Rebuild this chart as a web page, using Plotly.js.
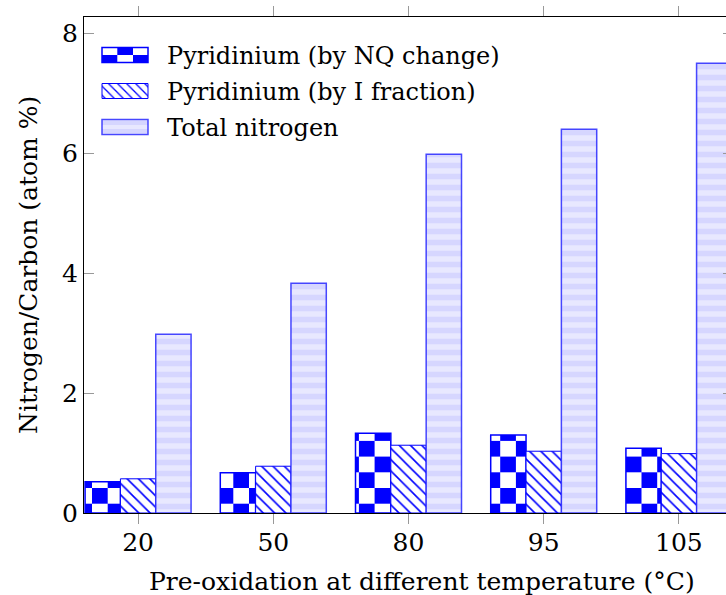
<!DOCTYPE html>
<html>
<head>
<meta charset="utf-8">
<script src="https://cdn.plot.ly/plotly-3.0.1.min.js"></script>
<style>
html,body{margin:0;padding:0;overflow:hidden;background:#fff;}
#chart{width:733px;height:595px;}
</style>
</head>
<body>
<div id="chart"></div>
<script>
const categories = ['20', '50', '80', '95', '105'];
const pyridiniumNQ = [0.52, 0.67, 1.33, 1.30, 1.08];
const pyridiniumI = [0.57, 0.78, 1.13, 1.03, 0.99];
const totalNitrogen = [2.98, 3.83, 5.98, 6.40, 7.50];
const seriesNames = ['Pyridinium (by NQ change)', 'Pyridinium (by I fraction)', 'Total nitrogen'];
const xTitle = 'Pre-oxidation at different temperature (°C)';
const yTitle = 'Nitrogen/Carbon (atom %)';

const FONT = 'DejaVu Serif';
const FS = 25;

const traces = [
  {
    type: 'bar', name: seriesNames[0], x: categories, y: pyridiniumNQ,
    marker: {
      color: '#ffffff',
      line: {color: '#0000ff', width: 1.5},
      pattern: {shape: '+', fgcolor: '#0000ff', bgcolor: '#ffffff', fgopacity: 1, size: 30, solidity: 0.5, fillmode: 'replace'}
    }
  },
  {
    type: 'bar', name: seriesNames[1], x: categories, y: pyridiniumI,
    marker: {
      color: '#ffffff',
      line: {color: '#0000ff', width: 1},
      pattern: {shape: '\\', fgcolor: '#0000ff', bgcolor: '#ffffff', fgopacity: 1, size: 8, solidity: 0.2, fillmode: 'replace'}
    }
  },
  {
    type: 'bar', name: seriesNames[2], x: categories, y: totalNitrogen,
    marker: {
      color: '#e6e6ff',
      line: {color: 'rgba(40,40,255,0.85)', width: 1.5},
      pattern: {shape: '-', fgcolor: '#d6d6ff', bgcolor: '#e8e8ff', fgopacity: 1, size: 11, solidity: 0.5, fillmode: 'replace'}
    }
  }
];

const layout = {
  width: 733, height: 595,
  margin: {l: 84, r: 0, t: 17, b: 82},
  paper_bgcolor: '#ffffff', plot_bgcolor: '#ffffff',
  font: {family: FONT, size: FS, color: '#000'},
  barmode: 'group', bargap: 0.216, bargroupgap: 0,
  showlegend: true,
  legend: {x: 0.02, y: 0.985, xanchor: 'left', yanchor: 'top', bgcolor: 'rgba(0,0,0,0)', font: {family: FONT, size: 24}, tracegroupgap: 0},
  xaxis: {
    type: 'category', range: [-0.4, 4.4],
    showline: true, linecolor: '#000', linewidth: 1, mirror: 'ticks',
    ticks: 'outside', ticklen: 10, tickcolor: '#999', tickwidth: 1,
    ticklabelstandoff: -3,
    showgrid: false, zeroline: false,
    tickfont: {family: FONT, size: FS}
  },
  yaxis: {
    range: [0, 8.27], tickvals: [0, 2, 4, 6, 8],
    showline: true, linecolor: '#000', linewidth: 1, mirror: 'ticks',
    ticks: 'inside', ticklen: 10, tickcolor: '#999', tickwidth: 1,
    showgrid: false, zeroline: false,
    tickfont: {family: FONT, size: FS}
  },
  annotations: [
    {text: xTitle, xref: 'paper', yref: 'paper', x: 0.5208, y: -0.139, xanchor: 'center', yanchor: 'middle', showarrow: false, font: {family: FONT, size: FS}},
    {text: yTitle, xref: 'paper', yref: 'paper', x: -0.0863, y: 0.5, xanchor: 'center', yanchor: 'middle', textangle: -90, showarrow: false, font: {family: FONT, size: FS}}
  ]
};

Plotly.newPlot('chart', traces, layout, {displayModeBar: false, staticPlot: true}).then(function (gd) {
  const ns = 'http://www.w3.org/2000/svg';
  const svg = gd.querySelector('svg.main-svg');
  let defs = svg.querySelector('defs');
  const cell = 15.7;
  const pat = document.createElementNS(ns, 'pattern');
  pat.setAttribute('id', 'checkerPat');
  pat.setAttribute('patternUnits', 'userSpaceOnUse');
  pat.setAttribute('width', 2 * cell);
  pat.setAttribute('height', 2 * cell);
  pat.setAttribute('x', 8);
  pat.setAttribute('y', 0);
  const mk = function (x, y, w, h, c) {
    const r = document.createElementNS(ns, 'rect');
    r.setAttribute('x', x); r.setAttribute('y', y);
    r.setAttribute('width', w); r.setAttribute('height', h);
    r.setAttribute('fill', c);
    pat.appendChild(r);
  };
  mk(0, 0, 2 * cell, 2 * cell, '#ffffff');
  mk(0, 0, cell, cell, '#0000ff');
  mk(cell, cell, cell, cell, '#0000ff');
  defs.appendChild(pat);

  const barTraces = gd.querySelectorAll('.barlayer .trace');
  barTraces[0].querySelectorAll('path').forEach(function (p) { p.style.fill = 'url(#checkerPat)'; });

  gd.querySelectorAll('.legend [clip-path]').forEach(function (e) { e.removeAttribute('clip-path'); });
  const items = gd.querySelectorAll('.legend .traces');
  const target = [55, 91, 127];
  items.forEach(function (it, i) {
    const pt = it.querySelector('.legendpoints path');
    pt.setAttribute('d', 'M-23,-7.5H23V7.5H-23Z');
    if (i === 0) pt.style.fill = 'url(#checkerPat)';
    const r = pt.getBoundingClientRect();
    const tx = it.querySelector('text.legendtext');
    const tr = tx.getBoundingClientRect();
    const curX = parseFloat(tx.getAttribute('x')) || 0;
    tx.setAttribute('x', curX + (r.right + 19 - tr.left));
    const m = /translate\(\s*([-\d.]+)[ ,]+([-\d.]+)\)/.exec(it.getAttribute('transform') || 'translate(0,0)');
    const tx0 = m ? parseFloat(m[1]) : 0, ty0 = m ? parseFloat(m[2]) : 0;
    const dx = 102 - r.left;
    const dy = target[i] - (r.top + r.height / 2);
    it.setAttribute('transform', 'translate(' + (tx0 + dx) + ',' + (ty0 + dy) + ')');
  });
});
</script>
</body>
</html>
